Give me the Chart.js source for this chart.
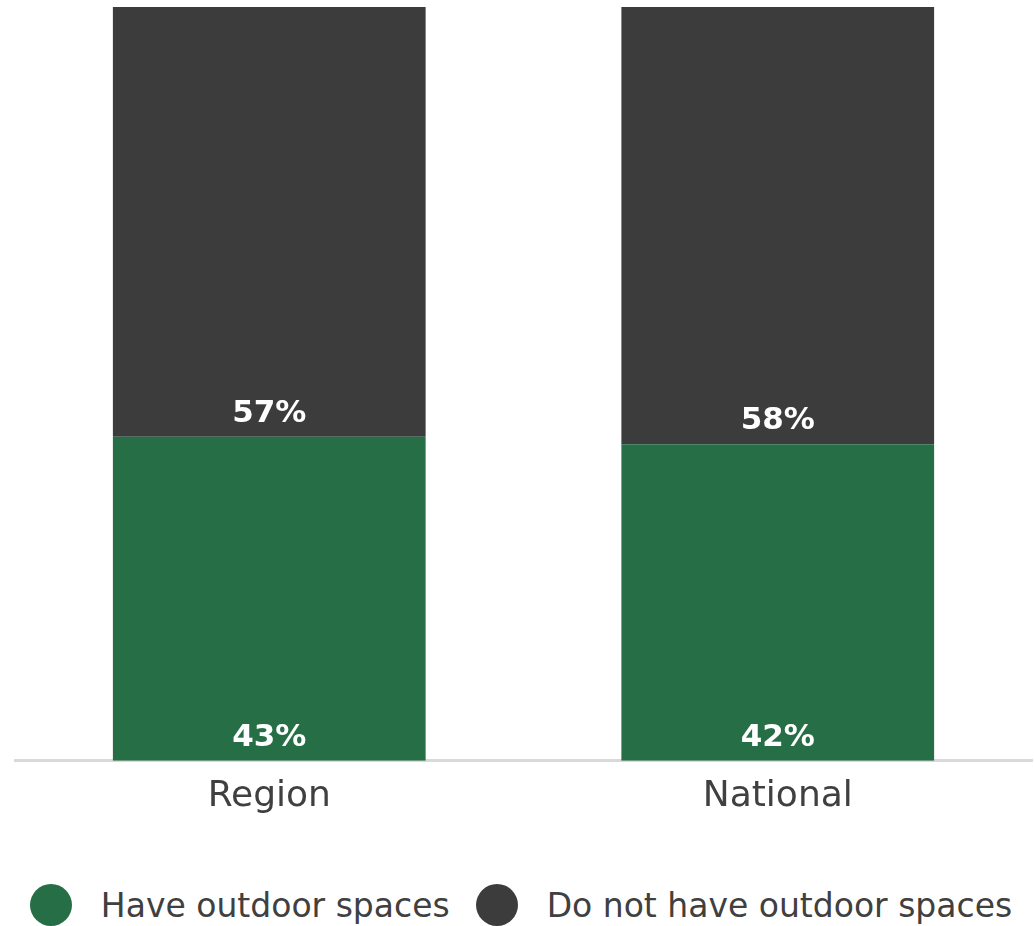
<!DOCTYPE html>
<html>
<head>
<meta charset="utf-8">
<script src="https://cdn.jsdelivr.net/npm/chart.js@4"></script>
<style>
    html, body { margin: 0; padding: 0; background: #fff; }
    #wrap { position: relative; width: 1034px; height: 926px; overflow: hidden; }
    #chartBox { position: absolute; left: 0; top: 0; width: 1034px; height: 832px; }
    #legend { position: absolute; left: 8px; right: 0; top: 884px; display: flex; justify-content: center;
        font-family: "DejaVu Sans", sans-serif; font-size: 33px; color: #404040; }
    .item { display: flex; align-items: center; height: 42px; margin: 0 13px; }
    .dot { width: 42px; height: 42px; border-radius: 50%; margin-right: 29px; }
</style>
</head>
<body>
<div id="wrap">
    <div id="chartBox"><canvas id="chartOutdoor"></canvas></div>
    <div id="legend"></div>
</div>
<script>
const categories = ['Region', 'National'];
const haveOutdoor = [43, 42];
const noOutdoor = [57, 58];
const seriesNames = ['Have outdoor spaces', 'Do not have outdoor spaces'];
const seriesColors = ['#266e45', '#3c3c3c'];

// writes the value at the bottom of every segment
const segmentLabels = {
    id: 'segmentLabels',
    afterDatasetsDraw(chart) {
        const ctx = chart.ctx;
        ctx.save();
        ctx.font = 'bold 31px "DejaVu Sans", sans-serif';
        ctx.fillStyle = '#ffffff';
        ctx.textAlign = 'center';
        ctx.textBaseline = 'middle';
        chart.data.datasets.forEach((ds, i) => {
            chart.getDatasetMeta(i).data.forEach((bar, j) => {
                ctx.fillText(ds.data[j] + '%', bar.x, bar.base - 23);
            });
        });
        ctx.restore();
    }
};

function initChart() {
    let canvas = document.getElementById('chartOutdoor');
    new Chart(canvas, {
        type: 'bar',
        data: {
            labels: categories,
            datasets: [
                { label: seriesNames[0], data: haveOutdoor, backgroundColor: seriesColors[0] },
                { label: seriesNames[1], data: noOutdoor, backgroundColor: seriesColors[1] }
            ]
        },
        options: {
            responsive: true,
            maintainAspectRatio: false,
            animation: false,
            layout: { padding: { top: 7, left: 15, right: 2, bottom: 0 } },
            datasets: { bar: { categoryPercentage: 1, barPercentage: 0.615 } },
            plugins: { legend: { display: false }, tooltip: { enabled: false } },
            scales: {
                x: {
                    stacked: true,
                    grid: { display: false, drawTicks: false },
                    border: { display: true, color: '#d9d9d9', width: 3 },
                    ticks: { color: '#404040', padding: 14, font: { family: '"DejaVu Sans", sans-serif', size: 36 } }
                },
                y: {
                    stacked: true,
                    display: false,
                    min: 0,
                    max: 100
                }
            }
        },
        plugins: [segmentLabels]
    });

    let legend = document.getElementById('legend');
    seriesNames.forEach((name, i) => {
        let item = document.createElement('div');
        item.className = 'item';
        item.innerHTML = '<span class="dot" style="background:' + seriesColors[i] + '"></span><span>' + name + '</span>';
        legend.appendChild(item);
    });
}

window.addEventListener('load', initChart);
</script>
</body>
</html>
